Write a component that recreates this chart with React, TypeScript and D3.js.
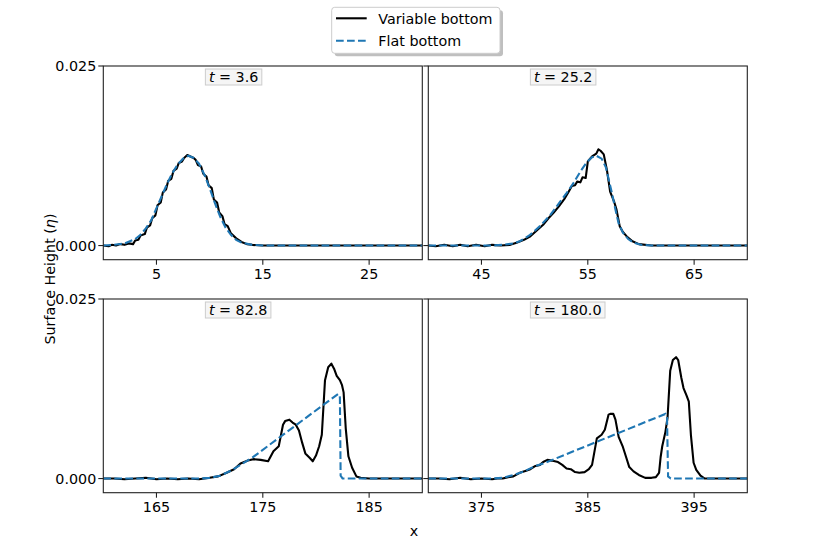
import * as d3 from "d3";
import { useLayoutEffect, useRef, useState } from "react";

const WIDTH = 830;
const HEIGHT = 554;
const FONT = "DejaVu Sans, Liberation Sans, sans-serif";
const BLUE = "#1f77b4";

// t = 3.6
const varX1 = [0, 0.5, 0.8, 1.2, 1.6, 2.0, 2.4, 2.8, 3.0, 3.3, 3.5, 3.9, 4.1, 4.4, 4.6, 4.9, 5.1, 5.4, 5.6, 5.9, 6.1, 6.4, 6.6, 6.9, 7.1, 7.4, 7.6, 7.9, 8.2, 8.5, 8.7, 8.9, 9.2, 9.4, 9.7, 9.9, 10.2, 10.4, 10.7, 10.9, 11.2, 11.4, 11.7, 12.0, 12.5, 13.0, 13.5, 14, 15, 30];
const varY1 = [0, -0.0001, 0.0001, 0.0, 0.0002, 0.0001, 0.0003, 0.0002, 0.0007, 0.0008, 0.0014, 0.0016, 0.0025, 0.0028, 0.0038, 0.0042, 0.0056, 0.006, 0.0074, 0.0078, 0.009, 0.0093, 0.0104, 0.0107, 0.0115, 0.0117, 0.0122, 0.0126, 0.0124, 0.0122, 0.0119, 0.0112, 0.011, 0.01, 0.0096, 0.0084, 0.008, 0.0064, 0.006, 0.0046, 0.0041, 0.003, 0.0027, 0.0017, 0.001, 0.0005, 0.0002, 0.0001, 0, 0];
const flatX1 = [0, 1, 2, 3, 3.5, 4, 4.5, 5, 5.5, 6, 6.5, 7, 7.5, 8, 8.5, 9, 9.5, 10, 10.5, 11, 11.5, 12, 12.5, 13, 14, 15, 30];
const flatY1 = [0, 0.0001, 0.0003, 0.0009, 0.0015, 0.0024, 0.0035, 0.0052, 0.0069, 0.0086, 0.0101, 0.0113, 0.0121, 0.0125, 0.0122, 0.0114, 0.0099, 0.008, 0.0059, 0.004, 0.0025, 0.0015, 0.0008, 0.0004, 0.0001, 0, 0];

// t = 25.2
const varX2 = [40, 40.7, 41.5, 42.3, 43, 43.7, 44.5, 45.3, 46, 46.8, 47.7, 48.3, 49, 49.6, 50.2, 50.8, 51.3, 51.8, 52.3, 52.8, 53.2, 53.5, 53.8, 54.0, 54.3, 54.5, 54.8, 55.0, 55.4, 55.8, 56.0, 56.2, 56.5, 56.8, 57.1, 57.5, 57.7, 58.0, 58.3, 58.7, 59.2, 59.8, 61, 70];
const varY2 = [0, -0.0001, 0.0001, -0.0001, 0.0001, -0.0001, 0.0001, -0.0001, 0.0001, 0, 0.0001, 0.0004, 0.0008, 0.0013, 0.0021, 0.0029, 0.0038, 0.0046, 0.0055, 0.0065, 0.0075, 0.0083, 0.0084, 0.0089, 0.0088, 0.0095, 0.0094, 0.0117, 0.0124, 0.0128, 0.0134, 0.0132, 0.0127, 0.0105, 0.0075, 0.006, 0.005, 0.0027, 0.0019, 0.0012, 0.0006, 0.0002, 0, 0];
const flatX2 = [40, 46, 47, 48, 48.6, 49.5, 50.5, 51.5, 52.4, 53, 53.7, 54.3, 54.9, 55.4, 55.8, 56.3, 56.7, 57.0, 57.3, 57.6, 57.9, 58.3, 58.8, 59.3, 60, 61, 70];
const flatY2 = [0, 0, 0.0001, 0.0003, 0.0006, 0.0014, 0.0027, 0.0043, 0.0061, 0.0073, 0.0088, 0.0103, 0.0116, 0.0123, 0.0125, 0.0121, 0.0109, 0.009, 0.0071, 0.005, 0.0031, 0.0018, 0.0009, 0.0004, 0.0001, 0, 0];

// t = 82.8
const varX3 = [160, 161, 162, 163, 164, 165, 166, 167, 168, 169, 170, 170.8, 171.6, 172.3, 172.9, 173.6, 174.1, 174.8, 175.5, 176.0, 176.5, 176.9, 177.1, 177.5, 177.8, 178.1, 178.4, 178.7, 179.0, 179.4, 179.7, 180.0, 180.3, 180.55, 180.85, 181.15, 181.45, 181.7, 181.95, 182.25, 182.45, 182.6, 182.8, 183.05, 183.4, 183.8, 184.2, 185, 190];
const varY3 = [0, 0, -0.0001, 0, 0.0001, -0.0001, 0, -0.0001, 0, -0.0001, 0.0001, 0.0003, 0.0008, 0.0013, 0.0021, 0.0025, 0.0027, 0.0026, 0.0024, 0.0038, 0.0045, 0.0075, 0.008, 0.0082, 0.0078, 0.0075, 0.0067, 0.005, 0.0035, 0.0029, 0.0024, 0.0032, 0.0045, 0.0061, 0.0137, 0.0155, 0.016, 0.0153, 0.0143, 0.0137, 0.013, 0.012, 0.007, 0.0031, 0.0015, 0.0003, 0.0001, 0, 0];
const flatX3 = [160, 169, 170, 171, 172, 173, 174, 182.1, 182.25, 182.32, 182.5, 190];
const flatY3 = [0, 0, 0.0001, 0.0004, 0.0011, 0.002, 0.0029, 0.0118, 0.0113, 0.0004, 0, 0];

// t = 180.0
const varX4 = [370, 371, 372, 373, 374, 375, 376, 376.5, 377, 377.5, 378, 378.6, 379.2, 379.6, 380.0, 380.5, 380.8, 381.2, 381.6, 382.2, 382.6, 383.0, 383.4, 383.8, 384.2, 384.7, 385.1, 385.4, 385.85, 386.3, 386.6, 386.95, 387.1, 387.4, 387.6, 387.9, 388.3, 388.6, 388.9, 389.3, 389.8, 390.4, 391.0, 391.4, 391.7, 391.85, 392.0, 392.3, 392.5, 392.75, 393.0, 393.3, 393.5, 393.8, 394.0, 394.3, 394.5, 394.7, 394.95, 395.2, 395.6, 396.0, 400];
const varY4 = [0, 0, -0.0001, 0.0001, -0.0001, 0, -0.0001, 0, 0, 0.0002, 0.0003, 0.0008, 0.0011, 0.0013, 0.0017, 0.0019, 0.0023, 0.0026, 0.0025, 0.0023, 0.0019, 0.0014, 0.0013, 0.0009, 0.0008, 0.0009, 0.0013, 0.0019, 0.0056, 0.0061, 0.0068, 0.0089, 0.009, 0.009, 0.0082, 0.0058, 0.0044, 0.003, 0.0016, 0.001, 0.0005, 0.0001, 0.0001, 0.0002, 0.0008, 0.003, 0.0045, 0.0065, 0.0085, 0.015, 0.0165, 0.0169, 0.0165, 0.014, 0.0126, 0.0115, 0.0107, 0.006, 0.0022, 0.0012, 0.0004, 0, 0];
const flatX4 = [370, 376, 377, 378, 379, 380, 381, 392.3, 392.45, 392.55, 392.8, 400];
const flatY4 = [0, 0, 0.0001, 0.0005, 0.001, 0.0017, 0.0022, 0.009, 0.0085, 0.0003, 0, 0];

const times = ["3.6", "25.2", "82.8", "180.0"];
const xDomains: [number, number][] = [[0, 30], [40, 70], [160, 190], [370, 400]];
const xTicks = [[5, 15, 25], [45, 55, 65], [165, 175, 185], [375, 385, 395]];
const yTicks = [0, 0.025];
const yTickLabels = ["0.000", "0.025"];
const legendLabels = ["Variable bottom", "Flat bottom"];

const panels = [
  { vx: varX1, vy: varY1, fx: flatX1, fy: flatY1 },
  { vx: varX2, vy: varY2, fx: flatX2, fy: flatY2 },
  { vx: varX3, vy: varY3, fx: flatX3, fy: flatY3 },
  { vx: varX4, vy: varY4, fx: flatX4, fy: flatY4 },
].map((p, i) => ({ ...p, time: times[i], xDomain: xDomains[i], xTicks: xTicks[i] }));

const colLeft = [103.3, 428.3];
const rowTop = [66, 299];
const panelW = 319;
const panelH = 193.7;
const fontSize = 14.3;

function TimeLabel({ x, y, time }: { x: number; y: number; time: string }) {
  const ref = useRef<SVGTextElement>(null);
  const [w, setW] = useState(48);
  useLayoutEffect(() => {
    if (ref.current) setW(ref.current.getComputedTextLength());
  }, [time]);
  return (
    <g>
      <rect x={x} y={y} width={w + 7} height={16} fill="#f5f5f5" stroke="#cccccc" strokeWidth={1} />
      <text ref={ref} x={x + 3.5} y={y + 12.6} fontSize={fontSize} fontFamily={FONT} fill="black">
        <tspan fontStyle="italic">t</tspan>
        <tspan> = {time}</tspan>
      </text>
    </g>
  );
}

function Panel({ idx, p }: { idx: number; p: (typeof panels)[number] }) {
  const left = colLeft[idx % 2];
  const top = rowTop[Math.floor(idx / 2)];
  const x = d3.scaleLinear().domain(p.xDomain).range([left, left + panelW]);
  const y = d3.scaleLinear().domain([-0.00197, 0.025]).range([top + panelH, top]);
  const line = d3
    .line<[number, number]>()
    .x((d) => x(d[0]))
    .y((d) => y(d[1]));
  const varPts = p.vx.map((v, i) => [v, p.vy[i]] as [number, number]);
  const flatPts = p.fx.map((v, i) => [v, p.fy[i]] as [number, number]);
  const clipId = `clip-${idx}`;
  const bottom = top + panelH;
  return (
    <g>
      <clipPath id={clipId}>
        <rect x={left} y={top} width={panelW} height={panelH} />
      </clipPath>
      <g clipPath={`url(#${clipId})`}>
        <path d={line(varPts) ?? ""} fill="none" stroke="black" strokeWidth={2.1} strokeLinejoin="round" />
        <path d={line(flatPts) ?? ""} fill="none" stroke={BLUE} strokeWidth={2.1} strokeDasharray="7.7,3.3" />
      </g>
      <rect x={left} y={top} width={panelW} height={panelH} fill="none" stroke="#222" strokeWidth={1.1} />
      {p.xTicks.map((t) => (
        <g key={t}>
          <line x1={x(t)} x2={x(t)} y1={bottom} y2={bottom + 5} stroke="#222" strokeWidth={1.1} />
          <text x={x(t)} y={bottom + 19} textAnchor="middle" fontSize={fontSize} fontFamily={FONT}>
            {t}
          </text>
        </g>
      ))}
      {yTicks.map((t, i) => (
        <g key={t}>
          <line x1={left - 5} x2={left} y1={y(t)} y2={y(t)} stroke="#222" strokeWidth={1.1} />
          {idx % 2 === 0 && (
            <text x={left - 7} y={y(t) + 5.2} textAnchor="end" fontSize={fontSize} fontFamily={FONT}>
              {yTickLabels[i]}
            </text>
          )}
        </g>
      ))}
      <TimeLabel x={left + 0.32 * panelW} y={top + 3} time={p.time} />
    </g>
  );
}

export default function App() {
  return (
    <svg
      width={WIDTH}
      height={HEIGHT}
      style={{ position: "absolute", left: 0, top: 0, background: "white" }}
    >
      <rect width={WIDTH} height={HEIGHT} fill="white" />
      {panels.map((p, i) => (
        <Panel key={i} idx={i} p={p} />
      ))}

      {/* legend */}
      <rect x={334.7} y={10.3} width={168.3} height={46} rx={3} fill="#808080" opacity={0.5} />
      <rect x={331.7} y={7.3} width={168.3} height={46} rx={3} fill="white" stroke="#cccccc" strokeWidth={1} />
      <line x1={336} x2={366.7} y1={18.3} y2={18.3} stroke="black" strokeWidth={2.1} />
      <line x1={336} x2={366.7} y1={40.7} y2={40.7} stroke={BLUE} strokeWidth={2.1} strokeDasharray="7.7,3.3" />
      <text x={378.3} y={23.5} fontSize={fontSize} fontFamily={FONT}>
        {legendLabels[0]}
      </text>
      <text x={378.3} y={45.9} fontSize={fontSize} fontFamily={FONT}>
        {legendLabels[1]}
      </text>

      {/* axis labels */}
      <text x={414} y={535.6} textAnchor="middle" fontSize={fontSize} fontFamily={FONT}>
        x
      </text>
      <text
        transform="translate(54.5,279) rotate(-90)"
        textAnchor="middle"
        fontSize={fontSize}
        fontFamily={FONT}
      >
        Surface Height (<tspan fontStyle="italic">η</tspan>)
      </text>
    </svg>
  );
}
